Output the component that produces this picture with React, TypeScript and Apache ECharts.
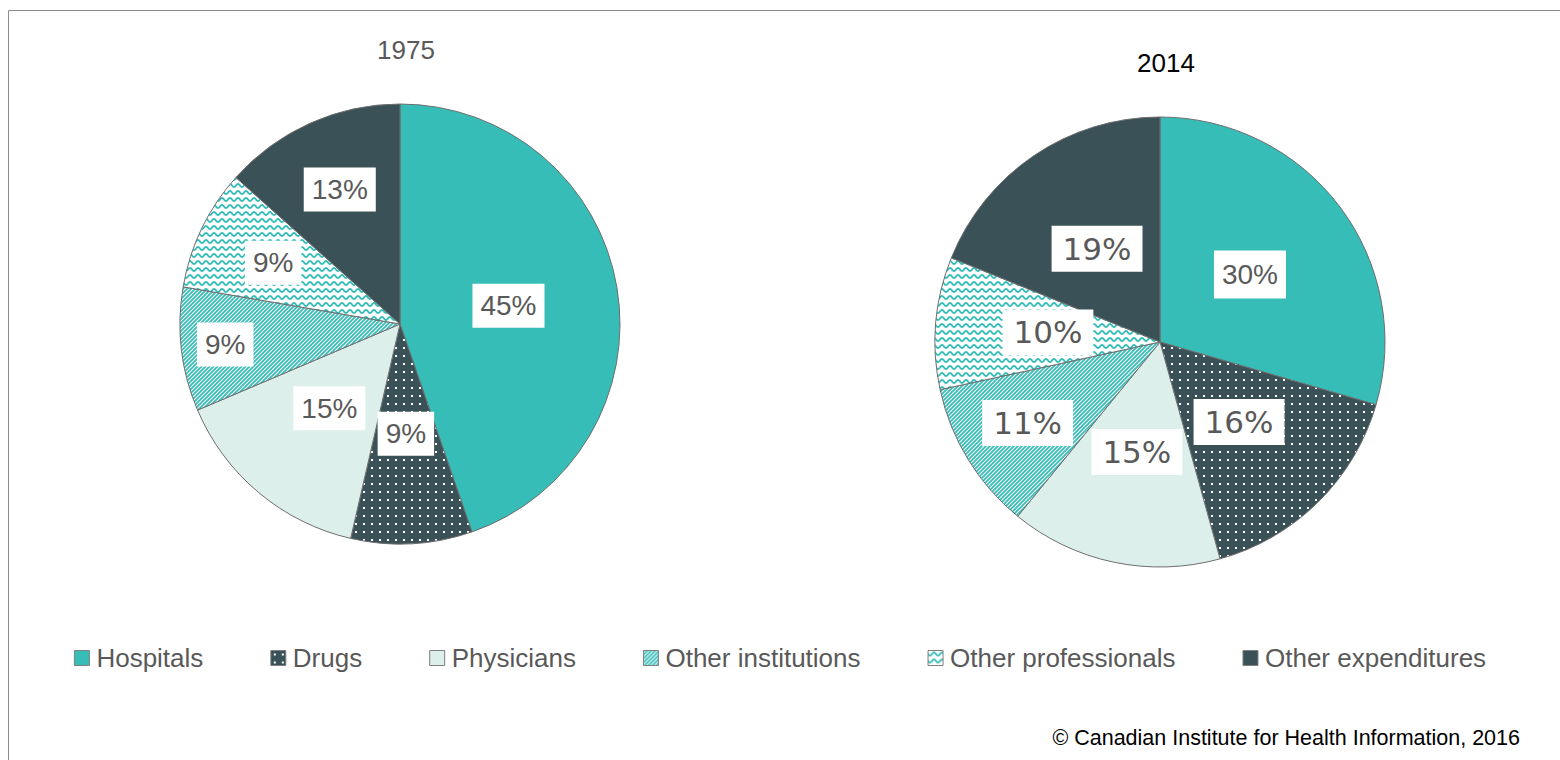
import React, { useEffect, useRef } from "react";
import * as echarts from "echarts";

const categories = ["Hospitals", "Drugs", "Physicians", "Other institutions", "Other professionals", "Other expenditures"];
const values1975 = [44.7, 8.9, 15.0, 9.1, 8.9, 13.4];
const values2014 = [29.5, 16.2, 15.2, 10.7, 9.5, 18.9];
const years = ["1975", "2014"];
const credit = "© Canadian Institute for Health Information, 2016";

// label distance from centre as fraction of radius (some labels sit further out)
const labelRadius1975 = [0.5, 0.5, 0.5, 0.8, 0.64, 0.67];
const labelRadius2014 = [0.5, 0.5, 0.5, 0.69, 0.5, 0.5];

const TEAL = "#37bdb7";
const DARK = "#3a5257";
const LIGHT = "#dcefeb";
const GRAY = "#595959";
const SANS = "'Liberation Sans', Arial, sans-serif";
const DEJAVU = "'DejaVu Sans', sans-serif";

function makeCanvas(w: number, h: number, draw: (ctx: CanvasRenderingContext2D) => void) {
  const c = document.createElement("canvas");
  c.width = w;
  c.height = h;
  const ctx = c.getContext("2d")!;
  draw(ctx);
  return c;
}

function dotsPattern() {
  const c = makeCanvas(8, 8, (ctx) => {
    ctx.fillStyle = DARK;
    ctx.fillRect(0, 0, 8, 8);
    ctx.fillStyle = "#ffffff";
    ctx.fillRect(3, 3, 2, 2);
  });
  return { image: c, repeat: "repeat", imageWidth: 8, imageHeight: 8 };
}

function stripePattern() {
  const s = 4;
  const c = makeCanvas(s, s, (ctx) => {
    ctx.fillStyle = "#ffffff";
    ctx.fillRect(0, 0, s, s);
    ctx.strokeStyle = TEAL;
    ctx.lineWidth = 1.8;
    ctx.beginPath();
    ctx.moveTo(-1, s + 1);
    ctx.lineTo(s + 1, -1);
    ctx.moveTo(-1, 1);
    ctx.lineTo(1, -1);
    ctx.moveTo(s - 1, s + 1);
    ctx.lineTo(s + 1, s - 1);
    ctx.stroke();
  });
  return { image: c, repeat: "repeat", imageWidth: s, imageHeight: s };
}

function wavePattern() {
  const w = 8, h = 7;
  const c = makeCanvas(w, h, (ctx) => {
    ctx.fillStyle = "#ffffff";
    ctx.fillRect(0, 0, w, h);
    ctx.strokeStyle = TEAL;
    ctx.lineWidth = 1.9;
    ctx.beginPath();
    for (let x = -1; x <= w + 1; x += 0.5) {
      const y = 3.5 + 1.6 * Math.sin((2 * Math.PI * x) / w);
      if (x === -1) ctx.moveTo(x, y);
      else ctx.lineTo(x, y);
    }
    ctx.stroke();
  });
  return { image: c, repeat: "repeat", imageWidth: w, imageHeight: h };
}

export default function App() {
  const ref = useRef<HTMLDivElement>(null);

  useEffect(() => {
    document.body.style.margin = "0";
    const chart = echarts.init(ref.current!, null, { renderer: "svg" });
    const fills: any[] = [TEAL, dotsPattern(), LIGHT, stripePattern(), wavePattern(), DARK];

    const pies = [
      { values: values1975, center: [400, 324], radius: 220, lr: labelRadius1975 },
      { values: values2014, center: [1160, 342], radius: 225, lr: labelRadius2014 },
    ];

    const labelPos = (si: number, di: number) => {
      const p = pies[si];
      const total = p.values.reduce((a, b) => a + b, 0);
      let cum = 0;
      for (let i = 0; i < di; i++) cum += p.values[i];
      const mid = ((cum + p.values[di] / 2) / total) * Math.PI * 2;
      const r = p.radius * p.lr[di];
      return { x: p.center[0] + r * Math.sin(mid), y: p.center[1] - r * Math.cos(mid) };
    };

    const series = pies.map((p, si) => ({
      type: "pie",
      center: p.center,
      radius: p.radius,
      startAngle: 90,
      clockwise: true,
      silent: true,
      label: {
        show: true,
        position: "inside",
        formatter: (prm: any) => Math.round(prm.value) + "%",
        color: GRAY,
        fontFamily: si === 0 ? SANS : DEJAVU,
        fontSize: si === 0 ? 28 : 31,
        lineHeight: si === 0 ? 30 : 34,
        backgroundColor: "#ffffff",
        padding: si === 0 ? [7, 8, 7, 8] : [6, 11, 6, 11],
      },
      labelLayout: (params: any) => {
        const pos = labelPos(si, params.dataIndex);
        return { x: pos.x, y: pos.y, align: "center", verticalAlign: "middle" };
      },
      labelLine: { show: false },
      itemStyle: { borderColor: "#6e6e6e", borderWidth: 1 },
      data: categories.map((name, i) => ({
        name,
        value: p.values[i],
        itemStyle: { color: fills[i] },
        ...(si === 1 && i === 0 ? { label: { fontFamily: SANS, fontSize: 28, padding: [7, 8, 7, 8] } } : {}),
      })),
    }));

    chart.setOption({
      animation: false,
      legend: {
        data: categories,
        left: "center",
        top: 640,
        icon: "rect",
        itemWidth: 15,
        itemHeight: 15,
        itemGap: 67,
        itemStyle: { borderColor: "#7f7f7f", borderWidth: 1 },
        textStyle: { color: GRAY, fontSize: 26, fontFamily: SANS, padding: [0, 0, 0, 2] },
      },
      graphic: [
        {
          type: "rect",
          shape: { x: 8.5, y: 10.5, width: 1700, height: 900 },
          style: { fill: "none", stroke: "#8c8c8c", lineWidth: 1 },
          silent: true,
        },
        {
          type: "text",
          x: 406,
          y: 50,
          style: { text: years[0], fill: GRAY, font: `26px ${SANS}`, align: "center", verticalAlign: "middle" },
        },
        {
          type: "text",
          x: 1166,
          y: 63,
          style: { text: years[1], fill: "#000000", font: `26px ${SANS}`, align: "center", verticalAlign: "middle" },
        },
        {
          type: "text",
          x: 1520,
          y: 738,
          style: { text: credit, fill: "#000000", font: `21.5px ${SANS}`, align: "right", verticalAlign: "middle" },
        },
      ],
      series,
    });
    return () => chart.dispose();
  }, []);

  return <div ref={ref} style={{ width: 1560, height: 760 }} />;
}
